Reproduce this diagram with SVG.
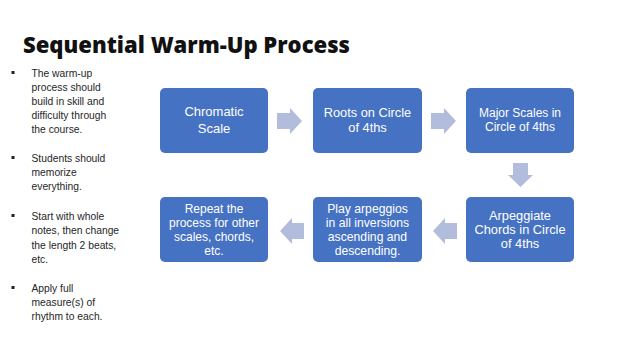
<svg xmlns="http://www.w3.org/2000/svg" width="624" height="351" viewBox="0 0 624 351">
<style>
.box{fill:#4672c3;}
.bt{font-family:"Liberation Sans",Arial,sans-serif;fill:#ffffff;text-anchor:middle;}
.arr{fill:#b2bcdc;}
.bl{font-family:"Liberation Sans",Arial,sans-serif;font-size:10.3px;fill:#262626;}
.sq{fill:#222222;}
</style>
<rect width="624" height="351" fill="#ffffff"/>
<text x="23" y="53" font-family="'Open Sans','DejaVu Sans',sans-serif" font-weight="800" font-size="22" fill="#111111" textLength="327" lengthAdjust="spacingAndGlyphs">Sequential Warm-Up Process</text>
<g id="bullets">
<rect class="sq" x="11.5" y="71" width="3" height="3"/>
<text class="bl" x="31.5" y="77.3">The warm-up</text>
<text class="bl" x="31.5" y="91.3">process should</text>
<text class="bl" x="31.5" y="105.3">build in skill and</text>
<text class="bl" x="31.5" y="119.3">difficulty through</text>
<text class="bl" x="31.5" y="133.3">the course.</text>
<rect class="sq" x="11.5" y="156" width="3" height="3"/>
<text class="bl" x="31.5" y="162">Students should</text>
<text class="bl" x="31.5" y="176">memorize</text>
<text class="bl" x="31.5" y="190">everything.</text>
<rect class="sq" x="11.5" y="214" width="3" height="3"/>
<text class="bl" x="31.5" y="220">Start with whole</text>
<text class="bl" x="31.5" y="234.3">notes, then change</text>
<text class="bl" x="31.5" y="248.6">the length 2 beats,</text>
<text class="bl" x="31.5" y="263">etc.</text>
<rect class="sq" x="11.5" y="286" width="3" height="3"/>
<text class="bl" x="31.5" y="292">Apply full</text>
<text class="bl" x="31.5" y="306">measure(s) of</text>
<text class="bl" x="31.5" y="320">rhythm to each.</text>
</g>
<g id="connectors">
<polygon class="arr" points="277,113 290,113 290,108 302,121 290,134 290,129 277,129"/>
<polygon class="arr" points="431,113 444,113 444,108 456,121 444,134 444,129 431,129"/>
<polygon class="arr" points="513,163 528,163 528,175 533,175 520.5,187 508,175 513,175"/>
<polygon class="arr" points="457,223 445,223 445,218 433,231 445,244 445,239 457,239"/>
<polygon class="arr" points="304,223 292,223 292,218 280,231 292,244 292,239 304,239"/>
</g>
<g id="n1">
<rect class="box" x="160" y="88" width="108" height="65" rx="5"/>
<text class="bt" font-size="13" x="214" y="116">Chromatic</text>
<text class="bt" font-size="13" x="214" y="133">Scale</text>
</g>
<g id="n2">
<rect class="box" x="313" y="88" width="109" height="65" rx="5"/>
<text class="bt" font-size="12.8" x="367.5" y="117.3">Roots on Circle</text>
<text class="bt" font-size="12.8" x="367.5" y="131.5">of 4ths</text>
</g>
<g id="n3">
<rect class="box" x="466" y="88" width="108" height="65" rx="5"/>
<text class="bt" font-size="12" x="520" y="117">Major Scales in</text>
<text class="bt" font-size="12" x="520" y="130.5">Circle of 4ths</text>
</g>
<g id="n4">
<rect class="box" x="466" y="197" width="108" height="65" rx="5"/>
<text class="bt" font-size="12.8" x="520" y="220">Arpeggiate</text>
<text class="bt" font-size="12.8" x="520" y="234">Chords in Circle</text>
<text class="bt" font-size="12.8" x="520" y="247.5">of 4ths</text>
</g>
<g id="n5">
<rect class="box" x="313" y="197" width="109" height="65" rx="5"/>
<text class="bt" font-size="12.2" x="367.5" y="213">Play arpeggios</text>
<text class="bt" font-size="12.2" x="367.5" y="227">in all inversions</text>
<text class="bt" font-size="12.2" x="367.5" y="241">ascending and</text>
<text class="bt" font-size="12.2" x="367.5" y="255">descending.</text>
</g>
<g id="n6">
<rect class="box" x="160" y="197" width="108" height="65" rx="5"/>
<text class="bt" font-size="12" x="214" y="213">Repeat the</text>
<text class="bt" font-size="12" x="214" y="227">process for other</text>
<text class="bt" font-size="12" x="214" y="241">scales, chords,</text>
<text class="bt" font-size="12" x="214" y="255">etc.</text>
</g>
</svg>
